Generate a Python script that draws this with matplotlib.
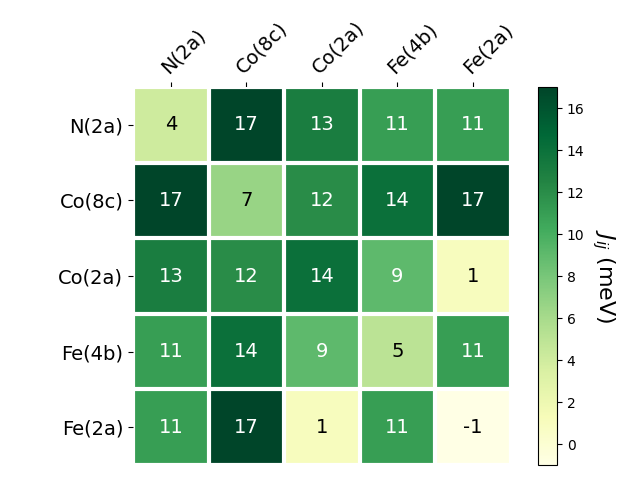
import numpy as np
import matplotlib
matplotlib.use("Agg")
import matplotlib.pyplot as plt

labels = ["N(2a)", "Co(8c)", "Co(2a)", "Fe(4b)", "Fe(2a)"]
J = np.array([[4, 17, 13, 11, 11],
              [17, 6.6, 12, 14, 17],
              [13, 12, 14, 9, 1],
              [11, 14, 9, 5, 11],
              [11, 17, 1, 11, -1]])

fig = plt.figure(figsize=(6.4, 4.8), dpi=100)
ax = fig.add_axes([0.2078, 0.03125, 0.590, 0.7875])
cax = fig.add_axes([0.8406, 0.03125, 0.0297, 0.7875])
im = ax.imshow(J, cmap="YlGn", vmin=-1, vmax=17)

cbar = fig.colorbar(im, cax=cax)
cbar.ax.set_ylabel("$J_{ij}$ (meV)", rotation=-90, va="bottom", fontsize=16)

ax.set_xticks(np.arange(len(labels)))
ax.set_yticks(np.arange(len(labels)))
ax.set_xticklabels(labels, fontsize=14)
ax.set_yticklabels(labels, fontsize=14)
ax.tick_params(top=True, bottom=False, labeltop=True, labelbottom=False)
plt.setp(ax.get_xticklabels(), rotation=45, ha="left", rotation_mode="anchor")

for s in ax.spines.values():
    s.set_visible(False)
ax.set_xticks(np.arange(len(labels) + 1) - .5, minor=True)
ax.set_yticks(np.arange(len(labels) + 1) - .5, minor=True)
ax.grid(which="minor", color="w", linestyle="-", linewidth=3)
ax.tick_params(which="minor", bottom=False, left=False, top=False)

thr = im.norm(J.max()) / 2.
for i in range(J.shape[0]):
    for j in range(J.shape[1]):
        c = "white" if im.norm(J[i, j]) > thr else "black"
        ax.text(j, i, "{:.0f}".format(J[i, j]), ha="center", va="center", color=c, fontsize=14)

fig.savefig("out.png")
